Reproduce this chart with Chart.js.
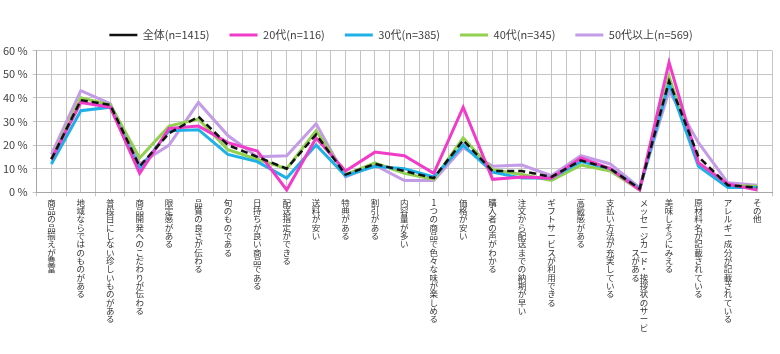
<!DOCTYPE html>
<html lang="ja">
<head>
    <meta charset="UTF-8">
    <title>購入時に重視する点（年代別）</title>
    <script src="https://cdn.jsdelivr.net/npm/chart.js"></script>
    <style>
        body {
            margin: 0;
            background: #ffffff;
        }
        .chart-box {
            width: 780px;
            height: 354px;
        }
    </style>
</head>
<body>
    <div class="chart-box">
        <canvas id="chart"></canvas>
    </div>

    <script>
        // categories (x axis)
        const categories = [
            '商品の品揃えが豊富', '地域ならではのものがある', '普段目にしない珍しいものがある',
            '商品開発へのこだわりが伝わる', '限定感がある', '品質の良さが伝わる', '旬のものである',
            '日持ちが良い商品である', '配送指定ができる', '送料が安い', '特典がある', '割引がある',
            '内容量が多い', '1つの商品で色々な味が楽しめる', '価格が安い', '購入者の声がわかる',
            '注文から配送までの納期が早い', 'ギフトサービスが利用できる', '高級感がある',
            '支払い方法が充実している', 'メッセージカード・挨拶状のサービスがある', '美味しそうにみえる',
            '原材料名が記載されている', 'アレルギー成分が記載されている', 'その他'
        ];

        // series labels
        const seriesNames = ['全体(n=1415)', '20代(n=116)', '30代(n=385)', '40代(n=345)', '50代以上(n=569)'];

        // values in %
        const total = [14, 39, 37, 11, 25, 32, 20, 15, 10, 24.5, 7.5, 12, 9, 6, 22, 9, 9, 6.5, 13.5, 10, 1.5, 47, 15, 3, 2];
        const age20 = [14, 38, 36, 8, 27, 28, 21, 17.5, 1, 23, 9, 17, 15.5, 8, 36, 5.5, 6.5, 6, 14.5, 10, 1, 55, 12.5, 3.5, 1];
        const age30 = [12, 34.5, 36, 10, 26, 26.5, 16, 13, 6, 20, 7, 11, 10, 6.5, 20, 8.5, 6, 6, 13, 10, 1.5, 46, 11, 2, 2];
        const age40 = [14, 40, 37, 14.5, 28, 31, 18, 14, 10, 26, 7.5, 12.5, 8, 5.5, 23, 9.5, 7.5, 5, 11.5, 9, 1, 49, 12, 3, 2.5];
        const age50 = [16, 43, 37.5, 12, 20, 38, 24, 15, 15.5, 29, 6.5, 11.5, 5, 5, 19, 11, 11.5, 7, 15.5, 12, 2, 43, 21, 4, 3];

        // y axis ticks
        const yTicks = [0, 10, 20, 30, 40, 50, 60];

        const colors = ['#111111', '#f03cc8', '#1fb0e8', '#92d050', '#c39be6'];
        const jpFont = '"Noto Sans CJK JP", "Noto Sans", sans-serif';
        const gridColor = '#c4c4c4';

        // vertical (tategaki) label: one character per line, max 16 per column
        function verticalLabel(text) {
            const chars = Array.from(text);
            if (chars.length <= 16) return chars;
            const first = chars.slice(0, 16);
            const second = chars.slice(16);
            const start = Math.floor((first.length - second.length) / 2);
            return first.map((c, i) => {
                const k = i - start;
                const left = (k >= 0 && k < second.length) ? second[k] : '\u3000';
                return left + c;
            });
        }

        // legend: shorter box so the plot starts higher, and nudged right
        const legendFit = {
            id: 'legendFit',
            beforeLayout(chart) {
                if (chart.legend) {
                    chart.legend.afterFit = function () { this.height = 48.2; };
                }
            },
            afterLayout(chart) {
                if (chart.legend) {
                    chart.legend.left += 15;
                    chart.legend.right += 15;
                }
            }
        };

        const datasets = [total, age20, age30, age40, age50].map((values, i) => ({
            label: seriesNames[i],
            data: values,
            borderColor: colors[i],
            backgroundColor: colors[i],
            borderWidth: i === 0 ? 2.5 : 3,
            borderDash: i === 0 ? [7, 4] : [],
            pointRadius: 0,
            tension: 0,
            fill: false
        }));

        new Chart(document.getElementById('chart'), {
            type: 'line',
            data: { labels: categories, datasets: datasets },
            plugins: [legendFit],
            options: {
                responsive: true,
                maintainAspectRatio: false,
                animation: false,
                layout: { padding: { top: 9.5, right: 8, bottom: 0, left: 0 } },
                plugins: {
                    legend: {
                        position: 'top',
                        labels: {
                            usePointStyle: true,
                            pointStyle: 'line',
                            pointStyleWidth: 28,
                            padding: 20,
                            color: '#404040',
                            font: { family: jpFont, size: 11 }
                        }
                    },
                    tooltip: { enabled: false }
                },
                scales: {
                    x: {
                        offset: true,
                        grid: { offset: true, color: gridColor, tickLength: 4 },
                        border: { color: '#a6a6a6' },
                        ticks: {
                            autoSkip: false,
                            maxRotation: 0,
                            minRotation: 0,
                            padding: 2,
                            color: '#333333',
                            font: { family: jpFont, size: 8.5, lineHeight: 0.98 },
                            callback: (v, i) => verticalLabel(categories[i])
                        },
                        afterFit: s => { s.height = 161.7; }
                    },
                    xc: {
                        type: 'category',
                        position: 'bottom',
                        offset: true,
                        grid: { offset: false, color: gridColor, drawTicks: false },
                        border: { display: false },
                        ticks: { display: false },
                        afterFit: s => { s.height = 0; }
                    },
                    y: {
                        min: yTicks[0],
                        max: yTicks[yTicks.length - 1],
                        afterBuildTicks: s => { s.ticks = yTicks.map(v => ({ value: v })); },
                        grid: { color: gridColor, tickLength: 4 },
                        border: { color: '#a6a6a6' },
                        ticks: {
                            padding: 5,
                            color: '#404040',
                            font: { family: jpFont, size: 11 },
                            callback: v => v + ' %'
                        },
                        afterFit: s => { s.width = 36.7; }
                    }
                }
            }
        });
    </script>
</body>
</html>
